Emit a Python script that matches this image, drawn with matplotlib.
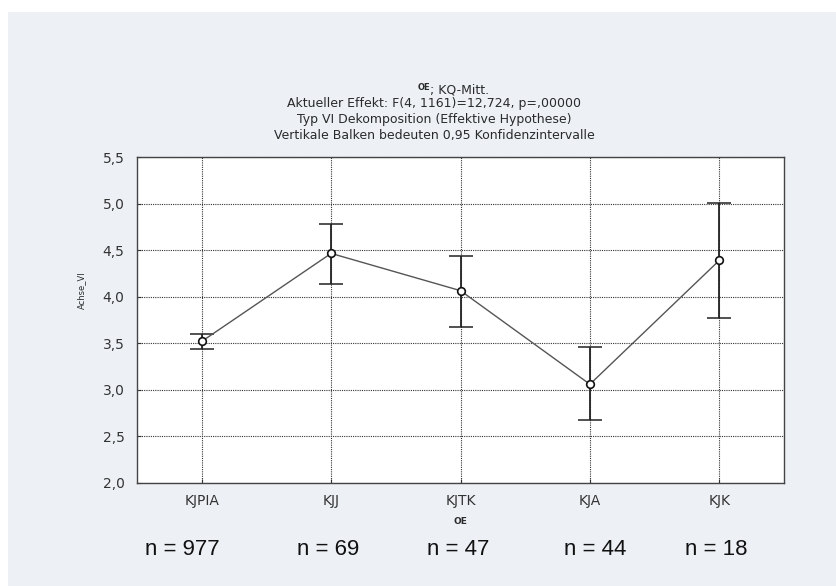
import matplotlib
matplotlib.use("Agg")
import matplotlib.pyplot as plt
from matplotlib.patches import Rectangle
import numpy as np

categories = ["KJPIA", "KJJ", "KJTK", "KJA", "KJK"]
means = [3.52, 4.465, 4.065, 3.06, 4.39]
ci_low = [3.44, 4.14, 3.68, 2.675, 3.775]
ci_high = [3.60, 4.78, 4.44, 3.46, 5.005]
n_labels = ["n = 977", "n = 69", "n = 47", "n = 44", "n = 18"]
n_offsets = [-0.15, -0.02, -0.02, 0.04, -0.02]
yticks = [2.0, 2.5, 3.0, 3.5, 4.0, 4.5, 5.0, 5.5]
ytick_labels = ["2,0", "2,5", "3,0", "3,5", "4,0", "4,5", "5,0", "5,5"]

W, H = 837, 586
fig = plt.figure(figsize=(W / 100, H / 100), dpi=100)
fig.patch.set_facecolor("white")
bg = Rectangle((8 / W, 0), 1 - 8 / W, 1 - 12 / H, transform=fig.transFigure,
               facecolor="#edf1f6", edgecolor="none", zorder=-10)
fig.patches.append(bg)

ax = fig.add_axes([137 / W, 1 - 483 / H, (784 - 137) / W, (483 - 157) / H])
ax.set_zorder(1)
ax.set_facecolor("white")

x = np.arange(len(categories))
m = np.array(means)
lo = m - np.array(ci_low)
hi = np.array(ci_high) - m

ax.errorbar(x, m, yerr=[lo, hi], fmt="none", ecolor="#222222", elinewidth=1.3,
            capsize=8.6, capthick=1.1, zorder=3)
ax.plot(x, m, color="#555555", lw=1.0, zorder=4)
ax.plot(x, m, "o", ms=5.5, mfc="white", mec="#111111", mew=1.2, zorder=5)

ax.set_xlim(-0.5, 4.5)
ax.set_ylim(2.0, 5.5)
ax.set_xticks(x)
ax.set_xticklabels(categories, fontsize=10, color="#333333")
ax.set_yticks(yticks)
ax.set_yticklabels(ytick_labels, fontsize=10, color="#333333")
ax.tick_params(axis="both", direction="in", length=3, color="#333333", pad=9)
ax.tick_params(axis="x", pad=8)
ax.grid(True, linestyle=(0, (1, 1)), color="#333333", linewidth=0.8)
ax.set_axisbelow(True)
for s in ax.spines.values():
    s.set_color("#444444")
    s.set_linewidth(1.0)

# titles
tc = "#2a2a2a"
cx = 434 / W
fig.text(cx - 0.005, 1 - 90 / H, "; KQ-Mitt.", fontsize=9, ha="left", va="center", color=tc)
fig.text(cx - 0.005, 1 - 87 / H, "OE", fontsize=6, fontweight="bold", ha="right", va="center", color=tc)
fig.text(cx, 1 - 104 / H, "Aktueller Effekt: F(4, 1161)=12,724, p=,00000", fontsize=9,
         ha="center", va="center", color=tc)
fig.text(cx, 1 - 119 / H, "Typ VI Dekomposition (Effektive Hypothese)", fontsize=9,
         ha="center", va="center", color=tc)
fig.text(cx, 1 - 135 / H, "Vertikale Balken bedeuten 0,95 Konfidenzintervalle", fontsize=9,
         ha="center", va="center", color=tc)

fig.text(82 / W, 1 - 290 / H, "Achse_VI", fontsize=6, rotation=90, ha="center", va="center", color=tc)
fig.text(460 / W, 1 - 521 / H, "OE", fontsize=6.5, fontweight="bold", ha="center", va="center", color=tc)

for i, (lab, off) in enumerate(zip(n_labels, n_offsets)):
    ax.text(i + off, -0.205, lab, transform=ax.get_xaxis_transform(), fontsize=16,
            family=["Liberation Sans", "DejaVu Sans"], ha="center", va="center", color="#111111")

fig.savefig("out.png", dpi=100)
